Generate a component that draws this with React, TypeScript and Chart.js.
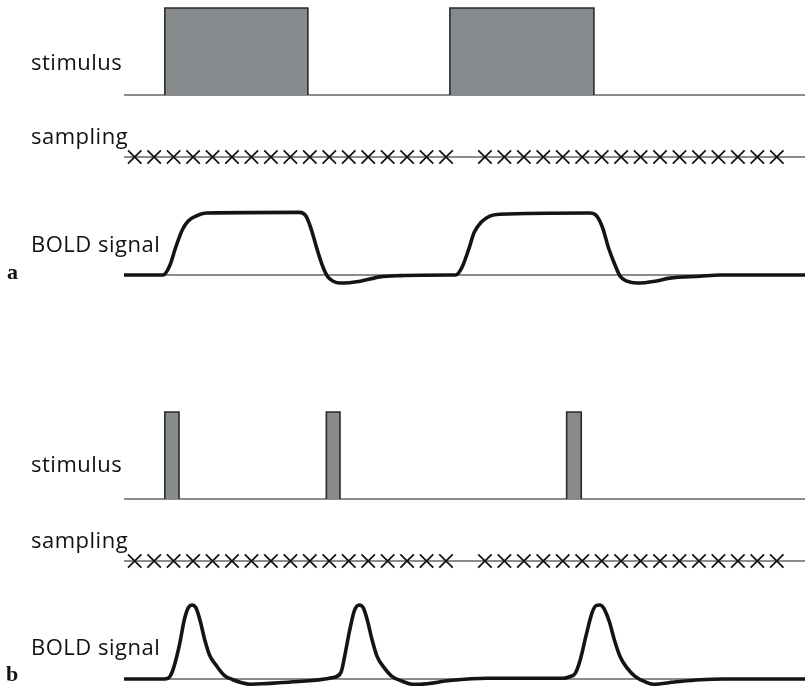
import React, { useEffect, useRef } from "react";
import { Chart, registerables } from "chart.js";

Chart.register(...registerables);

// ---- data (time in s, signal in arbitrary units) ----
const timeMax = 70;

// panel a: block design
const blockOnsetsA = [4.2, 33.5];
const blockOffsetsA = [18.9, 48.3];

// panel b: event-related design
const eventOnsetsB = [4.2, 20.8, 45.5];
const eventOffsetsB = [5.65, 22.2, 47.0];

// volume acquisition times (TR = 2 s), one volume missing
const sampleTimes = [
  1.1, 3.1, 5.1, 7.1, 9.1, 11.1, 13.1, 15.1, 17.1, 19.1, 21.1, 23.1, 25.1, 27.1, 29.1, 31.1, 33.1,
  37.1, 39.1, 41.1, 43.1, 45.1, 47.1, 49.1, 51.1, 53.1, 55.1, 57.1, 59.1, 61.1, 63.1, 65.1, 67.1,
];

const boldTimeA = [
  0, 4.0, 4.7, 5.3, 6.0, 6.6, 7.4, 8.5, 18.1, 18.7, 19.2, 19.8, 20.4, 20.9, 21.5, 22.2, 24.3, 26.3, 28.4,
  33.5, 34.1, 34.7, 35.4, 36.0, 36.7, 37.6, 38.6, 47.9, 48.6, 49.2, 49.8, 50.5, 51.0, 51.7, 52.7, 54.6, 56.1,
  59.2, 61.3, 70,
];
const boldValueA = [
  0, 0, 0.15, 0.44, 0.73, 0.87, 0.95, 1.0, 1.01, 0.95, 0.76, 0.44, 0.15, -0.02, -0.1, -0.13, -0.1, -0.03, -0.01,
  0, 0, 0.11, 0.4, 0.69, 0.85, 0.95, 0.98, 1.0, 0.95, 0.76, 0.44, 0.15, -0.02, -0.1, -0.13, -0.1, -0.05,
  -0.02, 0, 0,
];

const boldTimeB = [
  0, 4.2, 4.7, 5.1, 5.7, 6.2, 6.6, 7.0, 7.4, 7.8, 8.3, 8.8, 9.5, 10.3, 11.2, 12.1, 13.0, 17.1, 21.5, 22.3,
  22.7, 23.2, 23.7, 24.2, 24.6, 25.0, 25.5, 26.0, 26.7, 27.5, 28.6, 29.6, 30.4, 33.5, 37.3, 45.1, 45.8, 46.4,
  46.9, 47.5, 48.1, 48.5, 48.9, 49.3, 49.9, 50.4, 51.0, 51.7, 52.5, 53.6, 54.4, 56.6, 59.2, 61.6, 70,
];
const boldValueB = [
  0, 0, 0.03, 0.15, 0.46, 0.8, 0.96, 1.0, 0.96, 0.8, 0.53, 0.32, 0.18, 0.05, -0.01, -0.05, -0.07, -0.04, 0.02,
  0.09, 0.32, 0.66, 0.93, 1.0, 0.96, 0.8, 0.53, 0.31, 0.16, 0.04, -0.03, -0.07, -0.07, -0.02, 0.01, 0.01, 0.03,
  0.08, 0.26, 0.59, 0.89, 0.99, 1.0, 0.96, 0.77, 0.53, 0.3, 0.15, 0.04, -0.04, -0.07, -0.04, -0.01, 0, 0,
];

const rowLabels = ["stimulus", "sampling", "BOLD signal"];
const panelLabels = ["a", "b"];

// ---- layout helpers ----
const W = 805;
const H = 688;
const PLOT_LEFT = 124;

// vertical band: value 0 sits at zeroPx, pxPerUnit pixels per unit
function band(zeroPx: number, pxPerUnit: number) {
  const max = zeroPx / pxPerUnit;
  return { min: max - H / pxPerUnit, max };
}

const LINE = "#1b1b1b";

function baseline(axis: string) {
  return {
    type: "line" as const,
    yAxisID: axis,
    data: [
      { x: 0, y: 0 },
      { x: timeMax, y: 0 },
    ],
    borderColor: LINE,
    borderWidth: 1.2,
    pointRadius: 0,
    fill: false,
    order: 4,
  };
}

function stimBoxes(axis: string, onsets: number[], offsets: number[]) {
  return onsets.map((on, i) => ({
    type: "line" as const,
    yAxisID: axis,
    data: [
      { x: on, y: 0 },
      { x: on, y: 1 },
      { x: offsets[i], y: 1 },
      { x: offsets[i], y: 0 },
    ],
    borderColor: "#2a2a2a",
    borderWidth: 1.6,
    backgroundColor: "#878b8e",
    fill: "origin",
    pointRadius: 0,
    tension: 0,
    order: 3,
  }));
}

function samples(axis: string) {
  return {
    type: "line" as const,
    yAxisID: axis,
    data: sampleTimes.map((t) => ({ x: t, y: 0 })),
    showLine: false,
    pointStyle: "crossRot" as const,
    pointRadius: 9.5,
    pointBorderColor: "#111",
    pointBorderWidth: 1.7,
    pointBackgroundColor: "#111",
    order: 2,
  };
}

function bold(axis: string, times: number[], values: number[]) {
  return {
    type: "line" as const,
    yAxisID: axis,
    data: times.map((t, i) => ({ x: t, y: values[i] })),
    borderColor: "#141414",
    borderWidth: 3.6,
    cubicInterpolationMode: "monotone" as const,
    pointRadius: 0,
    borderCapStyle: "round" as const,
    borderJoinStyle: "round" as const,
    fill: false,
    order: 1,
  };
}

const labelPlugin = {
  id: "rowLabels",
  afterDraw(chart: any) {
    const ctx = chart.ctx as any;
    ctx.save();
    ctx.fillStyle = "#111";
    ctx.textAlign = "left";
    ctx.textBaseline = "alphabetic";
    ctx.font = '22px "Open Sans", "Noto Sans", sans-serif';
    ctx.letterSpacing = "0.5px";
    const rows = [
      ["stimA", 0, -25],
      ["sampA", 1, -13],
      ["boldA", 2, -23],
      ["stimB", 0, -27],
      ["sampB", 1, -13],
      ["boldB", 2, -24],
    ] as const;
    rows.forEach(([axis, li, dy]) => {
      const y = chart.scales[axis].getPixelForValue(0) + dy;
      ctx.fillText(rowLabels[li], 31, y);
    });
    ctx.letterSpacing = "0px";
    ctx.font = 'bold 22px "Liberation Serif", "DejaVu Serif", serif';
    ctx.fillText(panelLabels[0], 7, chart.scales.boldA.getPixelForValue(0) + 4);
    ctx.fillText(panelLabels[1], 6, chart.scales.boldB.getPixelForValue(0) + 2);
    ctx.restore();
  },
};

export default function App() {
  const ref = useRef<HTMLCanvasElement | null>(null);

  useEffect(() => {
    document.body.style.margin = "0";
    const canvas = ref.current;
    if (!canvas) return;
    const chart = new Chart(canvas, {
      type: "line",
      data: {
        datasets: [
          baseline("stimA"),
          ...stimBoxes("stimA", blockOnsetsA, blockOffsetsA),
          baseline("sampA"),
          samples("sampA"),
          baseline("boldA"),
          bold("boldA", boldTimeA, boldValueA),
          baseline("stimB"),
          ...stimBoxes("stimB", eventOnsetsB, eventOffsetsB),
          baseline("sampB"),
          samples("sampB"),
          baseline("boldB"),
          bold("boldB", boldTimeB, boldValueB),
        ] as any,
      },
      options: {
        animation: false,
        responsive: false,
        events: [],
        layout: { autoPadding: false, padding: { left: PLOT_LEFT, right: 0, top: 0, bottom: 0 } },
        plugins: { legend: { display: false }, tooltip: { enabled: false } },
        scales: {
          x: { type: "linear", min: 0, max: timeMax, display: false },
          stimA: { type: "linear", display: false, ...band(95, 87) },
          sampA: { type: "linear", display: false, ...band(157, 10) },
          boldA: { type: "linear", display: false, ...band(275, 62) },
          stimB: { type: "linear", display: false, ...band(499, 87) },
          sampB: { type: "linear", display: false, ...band(561, 10) },
          boldB: { type: "linear", display: false, ...band(679, 74) },
        },
      } as any,
      plugins: [labelPlugin],
    });
    return () => chart.destroy();
  }, []);

  return (
    <div style={{ width: W, height: H, background: "#fff" }}>
      <canvas ref={ref} width={W} height={H} style={{ display: "block" }} />
    </div>
  );
}
